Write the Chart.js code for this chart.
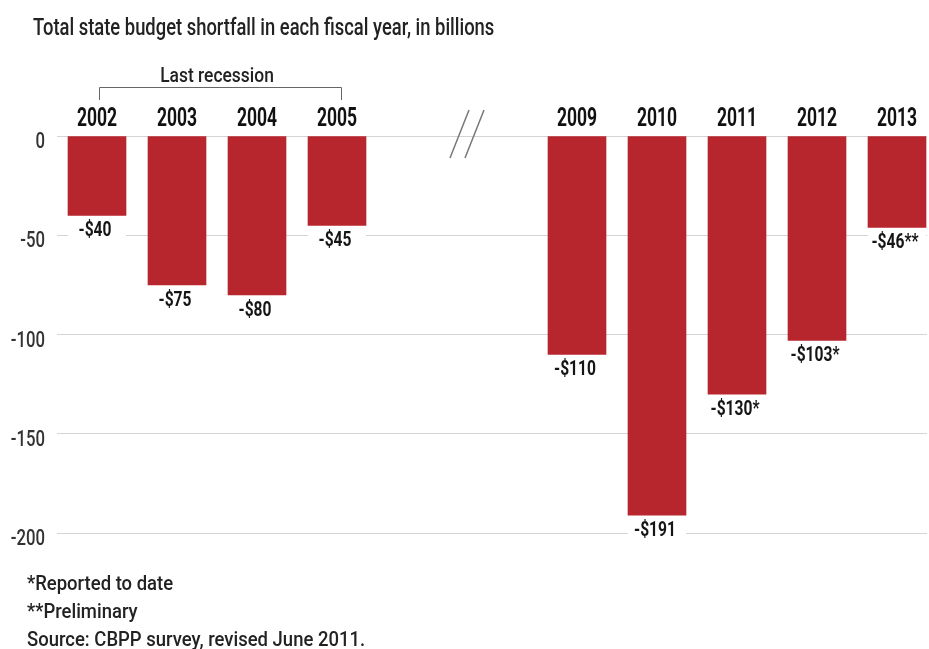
<!DOCTYPE html>
<html>
<head>
<meta charset="utf-8">
<script src="https://cdn.jsdelivr.net/npm/chart.js@4.4.1/dist/chart.umd.min.js"></script>
<style>
  html, body { margin: 0; padding: 0; background: #ffffff; overflow: hidden; }
  #wrap { position: relative; width: 929px; height: 649px; }
</style>
</head>
<body>
<div id="wrap"><canvas id="c" width="929" height="649"></canvas></div>
<script>
// ---- data ----
const categories = ['2002', '2003', '2004', '2005', '', '', '2009', '2010', '2011', '2012', '2013'];
const shortfall  = [-40, -75, -80, -45, null, null, -110, -191, -130, -103, -46];
const notes      = ['', '', '', '', '', '', '', '', '*', '*', '**'];
const yTicks     = [0, -50, -100, -150, -200];
const titleText  = 'Total state budget shortfall in each fiscal year, in billions';
const recessionLabel = 'Last recession';
const recessionSpan  = ['2002', '2005'];
const footnotes = ['*Reported to date', '**Preliminary', 'Source: CBPP survey, revised June 2011.'];

const FONT = 'Roboto, "Open Sans", sans-serif';
const BAR_COLOR = '#b7252d';

const points = [];
categories.forEach((c, i) => {
  if (shortfall[i] !== null) points.push({ x: i, y: shortfall[i], note: notes[i] });
});

// condensed text helper (horizontal squeeze to mimic a condensed face)
function txt(ctx, s, x, y, o) {
  ctx.save();
  ctx.translate(x, y);
  ctx.scale(o.sq || 0.72, 1);
  ctx.font = (o.bold ? 'bold ' : (o.weight ? o.weight + ' ' : '')) + o.size + 'px ' + FONT;
  ctx.fillStyle = o.color || '#222222';
  ctx.textAlign = o.align || 'left';
  ctx.textBaseline = 'alphabetic';
  ctx.fillText(s, 0, 0);
  ctx.restore();
}

const annotations = {
  id: 'annotations',
  afterDatasetsDraw(chart) {
    const ctx = chart.ctx;
    const xs = chart.scales.x;
    const ys = chart.scales.y;
    const meta = chart.getDatasetMeta(0);
    ctx.save();
    // value labels under bars
    meta.data.forEach((el, k) => {
      const p = points[k];
      const w = el.width;
      ctx.fillStyle = '#ffffff';
      ctx.fillRect(el.x - w / 2, el.y + 3, w, 22);
      txt(ctx, '-$' + Math.abs(p.y) + p.note, el.x - 2, el.y + 21,
          { size: 20, bold: true, sq: 0.78, align: 'center', color: '#151515' });
    });
    // year labels (top axis)
    xs.ticks.forEach(t => {
      const lab = categories[t.value];
      if (lab) txt(ctx, lab, xs.getPixelForValue(t.value), 126,
                   { size: 25, bold: true, sq: 0.7, align: 'center', color: '#111111' });
    });
    // y tick labels
    ys.ticks.forEach(t => {
      txt(ctx, String(t.value), ys.left + ys.width - 12, ys.getPixelForValue(t.value) + 12,
          { size: 22, sq: 0.76, weight: 500, align: 'right', color: '#333333' });
    });
    // title
    txt(ctx, titleText, 33, 35, { size: 23, sq: 0.8, weight: 500, color: '#222222' });
    // recession bracket
    const a = xs.getPixelForValue(categories.indexOf(recessionSpan[0])) + 2;
    const b = xs.getPixelForValue(categories.indexOf(recessionSpan[1])) + 4;
    ctx.strokeStyle = '#666666';
    ctx.lineWidth = 1;
    ctx.beginPath();
    ctx.moveTo(a + 0.5, 100);
    ctx.lineTo(a + 0.5, 87.5);
    ctx.lineTo(b + 0.5, 87.5);
    ctx.lineTo(b + 0.5, 100);
    ctx.stroke();
    txt(ctx, recessionLabel, (a + b) / 2 - 3, 82, { size: 21, sq: 0.83, weight: 500, align: 'center', color: '#222222' });
    // axis break slashes
    const mid = (xs.getPixelForValue(4) + xs.getPixelForValue(5)) / 2 + 10;
    ctx.strokeStyle = '#777777';
    ctx.lineWidth = 1.5;
    [0, 15].forEach(off => {
      ctx.beginPath();
      ctx.moveTo(mid - 17 + off, 158);
      ctx.lineTo(mid + 2 + off, 110);
      ctx.stroke();
    });
    // footnotes
    footnotes.forEach((t, i) => txt(ctx, t, 27, 590 + i * 28, { size: 21, sq: 0.88, weight: 500, color: '#222222' }));
    ctx.restore();
  }
};

new Chart(document.getElementById('c'), {
  type: 'bar',
  data: {
    datasets: [{
      data: points,
      backgroundColor: BAR_COLOR,
      borderWidth: 0,
      barThickness: 58
    }]
  },
  plugins: [annotations],
  options: {
    responsive: false,
    animation: false,
    events: [],
    layout: { padding: { left: 0, right: 2, top: 0, bottom: 116 } },
    plugins: { legend: { display: false }, tooltip: { enabled: false }, title: { display: false } },
    scales: {
      x: {
        type: 'linear',
        position: 'top',
        offset: false,
        min: -0.5,
        max: 10.375,
        grid: { display: false, drawTicks: false, offset: false },
        border: { display: false },
        afterFit: s => { s.height = 136; },
        afterBuildTicks: s => { s.ticks = categories.map((c, i) => ({ value: i })); },
        ticks: { display: false, autoSkip: false }
      },
      y: {
        min: -200,
        max: 0,
        afterFit: s => { s.width = 57; },
        afterBuildTicks: s => { s.ticks = yTicks.map(v => ({ value: v })); },
        grid: { color: '#d4d4d4', lineWidth: 1, drawTicks: false },
        border: { display: false },
        ticks: { display: false }
      }
    }
  }
});
</script>
</body>
</html>
